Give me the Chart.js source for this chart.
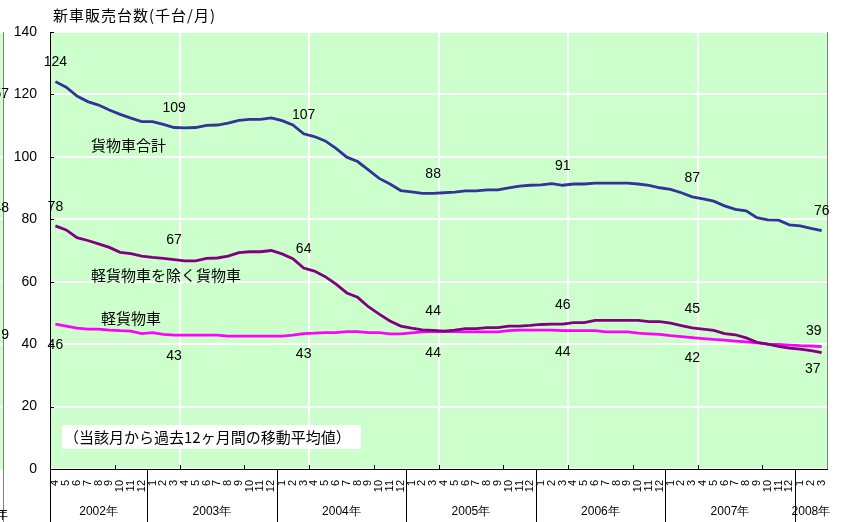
<!DOCTYPE html>
<html lang="ja">
<head>
<meta charset="utf-8">
<script src="https://cdn.jsdelivr.net/npm/chart.js@4.4.1/dist/chart.umd.min.js"></script>
<style>
  html, body { margin: 0; padding: 0; background: #fff; }
  #wrap { width: 846px; height: 522px; }
</style>
</head>
<body>
<div id="wrap"><canvas id="grafico" width="846" height="522"></canvas></div>
<script>
// 月ラベル (2002年4月〜2008年3月)
const meses = [
  '4', '5', '6', '7', '8', '9', '10', '11', '12',
  '1', '2', '3', '4', '5', '6', '7', '8', '9', '10', '11', '12',
  '1', '2', '3', '4', '5', '6', '7', '8', '9', '10', '11', '12',
  '1', '2', '3', '4', '5', '6', '7', '8', '9', '10', '11', '12',
  '1', '2', '3', '4', '5', '6', '7', '8', '9', '10', '11', '12',
  '1', '2', '3', '4', '5', '6', '7', '8', '9', '10', '11', '12',
  '1', '2', '3'
]
const anos = ['2002年', '2003年', '2004年', '2005年', '2006年', '2007年', '2008年']
const yTicks = [0, 20, 40, 60, 80, 100, 120, 140]

// 12ヶ月移動平均 (千台/月)
const totalCargo = [
  124.1, 122.3, 119.5, 117.7, 116.6, 115.0, 113.6, 112.4, 111.3, 111.3, 110.4, 109.4,
  109.3, 109.4, 110.1, 110.2, 110.8, 111.7, 112.0, 112.0, 112.5, 111.6, 110.2, 107.4,
  106.5, 105.1, 102.7, 99.9, 98.5, 95.8, 93.1, 91.3, 89.2, 88.8, 88.3, 88.3,
  88.5, 88.7, 89.1, 89.1, 89.4, 89.4, 90.1, 90.6, 90.9, 91.0, 91.4, 90.9,
  91.3, 91.3, 91.6, 91.6, 91.6, 91.6, 91.3, 90.9, 90.1, 89.6, 88.5, 87.2,
  86.5, 85.8, 84.3, 83.2, 82.7, 80.5, 79.8, 79.7, 78.2, 77.9, 77.1, 76.4
]
const semKei = [
  77.9, 76.6, 74.1, 73.2, 72.1, 71.0, 69.4, 69.0, 68.2, 67.8, 67.5, 67.1,
  66.7, 66.7, 67.5, 67.6, 68.2, 69.3, 69.6, 69.6, 70.0, 68.9, 67.4, 64.4,
  63.4, 61.6, 59.2, 56.4, 55.0, 52.0, 49.6, 47.4, 45.8, 45.1, 44.6, 44.4,
  44.2, 44.5, 45.0, 45.0, 45.3, 45.3, 45.8, 45.8, 46.0, 46.3, 46.4, 46.4,
  46.9, 46.9, 47.6, 47.6, 47.6, 47.6, 47.6, 47.2, 47.2, 46.7, 45.9, 45.2,
  44.8, 44.4, 43.4, 43.0, 42.0, 40.6, 40.0, 39.3, 38.7, 38.4, 37.9, 37.3
]
const kei = [
  46.4, 45.8, 45.1, 44.8, 44.8, 44.5, 44.3, 44.2, 43.4, 43.7, 43.1, 42.9,
  42.9, 42.9, 42.9, 42.9, 42.6, 42.6, 42.6, 42.6, 42.6, 42.6, 42.9, 43.4,
  43.5, 43.7, 43.7, 44.0, 44.0, 43.7, 43.7, 43.3, 43.3, 43.6, 43.9, 44.0,
  44.0, 44.0, 43.9, 43.9, 43.9, 43.9, 44.3, 44.5, 44.5, 44.5, 44.5, 44.3,
  44.3, 44.3, 44.3, 43.9, 43.9, 43.9, 43.5, 43.3, 43.1, 42.7, 42.4, 42.1,
  41.8, 41.5, 41.3, 41.0, 40.7, 40.4, 40.0, 39.9, 39.7, 39.5, 39.4, 39.2
]
// 値ラベルを付ける月 (毎年3月と始点)
const rotulos = [0, 11, 23, 35, 47, 59, 71]

const fonteNum = '"Liberation Sans", Arial, sans-serif'
const fonteJp = '"Noto Sans CJK JP", sans-serif'

// ラベルの位置ずらし [dx, dy]
const desloc = [
  rotulos.map(() => [0, -19]),
  rotulos.map((r, i) => i === 6 ? [-9, 17] : [0, -19]),
  rotulos.map((r, i) => i === 6 ? [-8, -15] : [0, 21])
]

const enfeites = {
  id: 'enfeites',
  beforeDraw(chart) {
    const { ctx, chartArea: a } = chart
    ctx.save()
    ctx.fillStyle = '#ccffcc'
    ctx.fillRect(a.left, a.top, a.right - a.left, a.bottom - a.top)
    ctx.restore()
  },
  afterDraw(chart) {
    const { ctx, chartArea: a, scales } = chart
    const x = scales.x, y = scales.y
    const passo = (a.right - a.left) / meses.length
    const borda = i => a.left + i * passo
    ctx.save()

    // 目盛り (内向き)
    ctx.strokeStyle = '#000'
    ctx.lineWidth = 1
    ctx.beginPath()
    for (let i = 6; i < meses.length; i += 6) {
      const px = Math.round(borda(i)) + 0.5
      ctx.moveTo(px, a.bottom)
      ctx.lineTo(px, a.bottom - 4)
    }
    yTicks.forEach(v => {
      const py = Math.round(y.getPixelForValue(v)) + 0.5
      ctx.moveTo(a.left, py)
      ctx.lineTo(a.left + 4, py)
    })
    ctx.stroke()

    // 右枠
    ctx.strokeStyle = '#808080'
    ctx.beginPath()
    ctx.moveTo(Math.round(a.right) + 0.5, a.top)
    ctx.lineTo(Math.round(a.right) + 0.5, a.bottom)
    ctx.stroke()

    // 年の区切り線と年ラベル
    const inicios = [0]
    meses.forEach((m, i) => { if (m === '1') inicios.push(i) })
    ctx.strokeStyle = '#000'
    ctx.beginPath()
    inicios.forEach(i => {
      const px = Math.round(borda(i)) + 0.5
      ctx.moveTo(px, a.bottom)
      ctx.lineTo(px, chart.height)
    })
    ctx.stroke()
    ctx.fillStyle = '#000'
    ctx.font = '12px ' + fonteNum
    ctx.textAlign = 'center'
    ctx.textBaseline = 'middle'
    inicios.forEach((ini, k) => {
      const fim = k + 1 < inicios.length ? inicios[k + 1] : meses.length
      ctx.fillText(anos[k], (borda(ini) + borda(fim)) / 2, 512)
    })

    // タイトル
    ctx.textAlign = 'left'
    ctx.font = '15px ' + fonteJp
    ctx.letterSpacing = '1px'
    ctx.fillText('新車販売台数(千台/月)', 53, 15)
    ctx.letterSpacing = '0px'

    // 系列名
    ctx.font = '15px ' + fonteJp
    ctx.fillText('貨物車合計', a.left + 41, 145)
    ctx.fillText('軽貨物車を除く貨物車', a.left + 41, 275)
    ctx.fillText('軽貨物車', a.left + 51, 318)

    // 注記
    ctx.fillStyle = '#fff'
    ctx.fillRect(a.left + 12, 425, 299, 24)
    ctx.fillStyle = '#000'
    ctx.fillText('（当該月から過去12ヶ月間の移動平均値）', a.left + 14, 437)

    // 値ラベル
    ctx.font = '14px ' + fonteNum
    ctx.textAlign = 'center'
    chart.data.datasets.forEach((ds, d) => {
      const meta = chart.getDatasetMeta(d)
      rotulos.forEach((idx, k) => {
        const pt = meta.data[idx]
        const [dx, dy] = desloc[d][k]
        ctx.fillText(String(Math.round(ds.data[idx])), pt.x + dx, pt.y + dy)
      })
    })

    // 左隣のグラフの端
    ctx.fillStyle = '#ccffcc'
    ctx.fillRect(0, a.top, 3, a.bottom - a.top)
    ctx.strokeStyle = '#fff'
    ctx.lineWidth = 2
    ctx.beginPath()
    yTicks.slice(1).forEach(v => {
      const py = y.getPixelForValue(v)
      ctx.moveTo(0, py)
      ctx.lineTo(3, py)
    })
    ctx.stroke()
    ctx.strokeStyle = '#808080'
    ctx.lineWidth = 1
    ctx.beginPath()
    ctx.moveTo(3.5, a.top)
    ctx.lineTo(3.5, a.bottom)
    ctx.moveTo(3.5, a.bottom)
    ctx.lineTo(3.5, chart.height)
    ctx.stroke()
    ctx.fillStyle = '#000'
    ctx.font = '14px ' + fonteNum
    ctx.textAlign = 'right'
    ctx.fillText('57', 9, 94)
    ctx.fillText('48', 9, 208)
    ctx.fillText('9', 9, 335)
    ctx.font = '12px ' + fonteJp
    ctx.fillText('年', 8, 514)

    ctx.restore()
  }
}

const ctx = document.getElementById('grafico')

const grafico = new Chart(ctx, {
  type: 'line',
  data: {
    labels: meses,
    datasets: [
      { label: '貨物車合計', data: totalCargo, borderColor: '#333399' },
      { label: '軽貨物車を除く貨物車', data: semKei, borderColor: '#800080' },
      { label: '軽貨物車', data: kei, borderColor: '#ff00ff' }
    ]
  },
  options: {
    responsive: false,
    animation: false,
    devicePixelRatio: 1,
    layout: { padding: { top: 32, right: 14, left: 0, bottom: 0 } },
    elements: {
      point: { radius: 0 },
      line: { tension: 0, borderWidth: 2.8, fill: false }
    },
    plugins: {
      legend: { display: false },
      tooltip: { enabled: false }
    },
    scales: {
      x: {
        offset: true,
        grid: {
          offset: true,
          color: c => (c.index > 0 && c.index % 12 === 0) ? '#ffffff' : 'rgba(0,0,0,0)',
          lineWidth: 2,
          drawTicks: false
        },
        border: { color: '#000', width: 1 },
        ticks: {
          autoSkip: false,
          minRotation: 90,
          maxRotation: 90,
          padding: 11,
          color: '#000',
          font: { size: 11, family: fonteNum }
        },
        afterFit: s => { s.height = 53 }
      },
      y: {
        min: 0,
        max: 140,
        afterBuildTicks: s => { s.ticks = yTicks.map(v => ({ value: v })) },
        grid: { color: '#ffffff', lineWidth: 2, drawTicks: false },
        border: { color: '#000', width: 1 },
        ticks: {
          padding: 13,
          color: '#000',
          font: { size: 14, family: fonteNum }
        },
        afterFit: s => { s.width = 50 }
      }
    }
  },
  plugins: [enfeites]
})
</script>
</body>
</html>
